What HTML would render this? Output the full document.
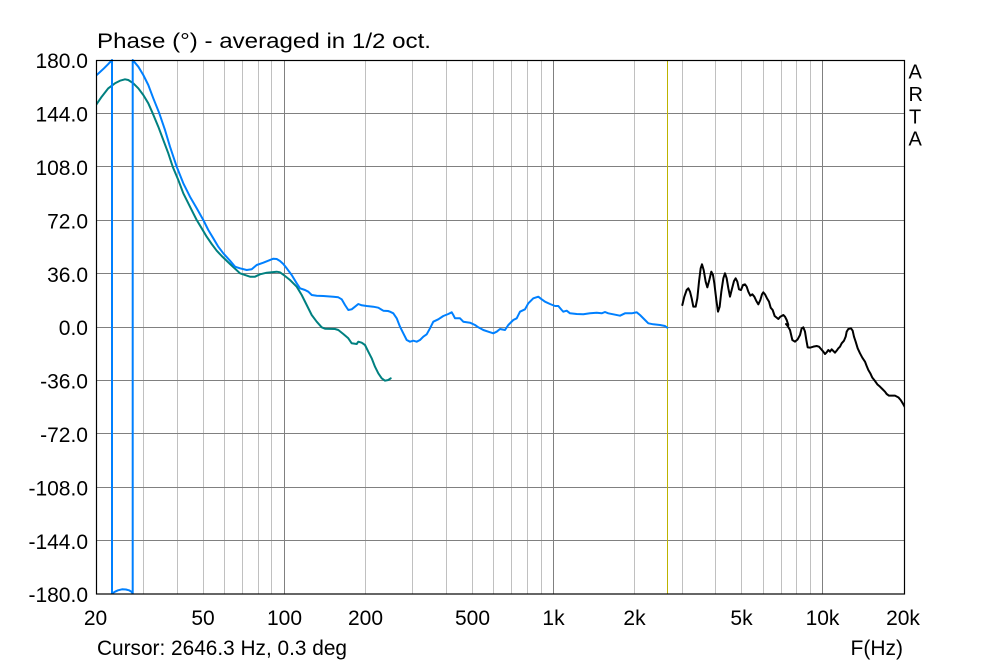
<!DOCTYPE html>
<html>
<head>
<meta charset="utf-8">
<style>
html,body{margin:0;padding:0;background:#fff;}
svg{display:block;}
text{font-family:"Liberation Sans",Arial,sans-serif;fill:#000;}
</style>
</head>
<body>
<svg width="1000" height="666" viewBox="0 0 1000 666" xmlns="http://www.w3.org/2000/svg">
<rect x="0" y="0" width="1000" height="666" fill="#fff"/>
<defs>
<clipPath id="pc"><rect x="96" y="59" width="809" height="536"/></clipPath>
</defs>

<!-- minor vertical grid -->
<g stroke="#c0c0c0" stroke-width="1">
<line x1="143.5" y1="60" x2="143.5" y2="594"/>
<line x1="177.5" y1="60" x2="177.5" y2="594"/>
<line x1="203.5" y1="60" x2="203.5" y2="594"/>
<line x1="224.5" y1="60" x2="224.5" y2="594"/>
<line x1="242.5" y1="60" x2="242.5" y2="594"/>
<line x1="258.5" y1="60" x2="258.5" y2="594"/>
<line x1="271.5" y1="60" x2="271.5" y2="594"/>
<line x1="365.5" y1="60" x2="365.5" y2="594"/>
<line x1="412.5" y1="60" x2="412.5" y2="594"/>
<line x1="446.5" y1="60" x2="446.5" y2="594"/>
<line x1="472.5" y1="60" x2="472.5" y2="594"/>
<line x1="493.5" y1="60" x2="493.5" y2="594"/>
<line x1="511.5" y1="60" x2="511.5" y2="594"/>
<line x1="527.5" y1="60" x2="527.5" y2="594"/>
<line x1="541.5" y1="60" x2="541.5" y2="594"/>
<line x1="634.5" y1="60" x2="634.5" y2="594"/>
<line x1="682.5" y1="60" x2="682.5" y2="594"/>
<line x1="715.5" y1="60" x2="715.5" y2="594"/>
<line x1="741.5" y1="60" x2="741.5" y2="594"/>
<line x1="763.5" y1="60" x2="763.5" y2="594"/>
<line x1="781.5" y1="60" x2="781.5" y2="594"/>
<line x1="796.5" y1="60" x2="796.5" y2="594"/>
<line x1="810.5" y1="60" x2="810.5" y2="594"/>
</g>
<!-- major vertical + horizontal grid -->
<g stroke="#808080" stroke-width="1">
<line x1="284.5" y1="60" x2="284.5" y2="594"/>
<line x1="553.5" y1="60" x2="553.5" y2="594"/>
<line x1="822.5" y1="60" x2="822.5" y2="594"/>
<line x1="96" y1="113.5" x2="904" y2="113.5"/>
<line x1="96" y1="166.5" x2="904" y2="166.5"/>
<line x1="96" y1="220.5" x2="904" y2="220.5"/>
<line x1="96" y1="273.5" x2="904" y2="273.5"/>
<line x1="96" y1="327.5" x2="904" y2="327.5"/>
<line x1="96" y1="380.5" x2="904" y2="380.5"/>
<line x1="96" y1="433.5" x2="904" y2="433.5"/>
<line x1="96" y1="487.5" x2="904" y2="487.5"/>
<line x1="96" y1="540.5" x2="904" y2="540.5"/>
</g>
<!-- cursor -->
<line x1="667.5" y1="60" x2="667.5" y2="594" stroke="#bdb400" stroke-width="1"/>

<g clip-path="url(#pc)" fill="none" stroke-linejoin="round" stroke-linecap="round">
<!-- green -->
<polyline stroke="#008080" stroke-width="2" points="96,105 101.7,96.7 108.3,88.3 115,83.3 120,80.7 125,79.3 128.3,80 133.3,83.3 138.3,88.3 143.3,95 148.3,103.3 152.7,113.3 158.3,126.7 163.3,140 168.3,153.3 172.7,166.7 178.3,180 183.3,193.3 188.3,203.3 193.3,213.3 196.7,220 201.7,228.3 206.7,236.7 211.7,244 216.7,250.7 221.7,256 230,264 240,273.3 250,276.7 255,276.7 260,274.3 266.7,272.7 276.7,271.7 280,272.3 285,276 290,280 296.7,286.7 301.7,295 306.7,305 311.7,315 316.7,321.7 321.7,327.3 325,328.7 335,329 338.3,330 343.3,334 348.3,338.3 351.7,343.3 356.7,344 358.3,341.7 361.7,342.7 365,345 368.3,351.7 371.7,358.3 375,366.7 378.3,373.3 381.7,378.3 385,380.7 388.3,380 390.7,378.3"/>
<!-- blue -->
<polyline stroke="#0080ff" stroke-width="2" points="96,75.7 100,72 104,68.3 108,64.3 112,60 112,593.5 115,591.7 118,590.3 122,589.3 126,589.5 129,590.3 131.5,591.7 132.7,593.5 132.7,60 138.3,66.7 143.3,75 148.3,85 153.3,98.3 159.3,113.3 165,130 170,146.7 176.7,166.7 183.3,183.3 190,196.7 196.7,208.3 203.3,220 208.3,230 213.3,238.3 218.3,246.7 223.3,253.3 230,260.7 235,266.7 240,268.3 246.7,270 251.7,269.3 256.7,265 263.3,262.7 268.3,260.7 273.3,258.7 276.7,259 280,261 283.3,264 286.7,268.3 291.7,275 296.7,283.3 300,288.3 305,290 308.3,291.7 311.7,295 316.7,295.7 323.3,296 333.3,296.7 338.3,297.3 341.7,299.3 345,305 348.3,310 351.7,309.3 355,306.7 358.3,304 361.7,305.3 366.7,306 373.3,306.7 378.3,307.7 383.3,310.7 388,311 390,311.7 393.3,313.3 396.7,318.3 400,326.7 403.3,333.3 406.7,340 410,341.7 413.3,340.7 416.7,341.7 420,340 423.3,336.7 426.7,334.3 430,328.3 433.3,321.7 438.3,319.3 443.3,316 448.3,314 451.7,312.3 453.3,315 455,318.3 460,318.3 463.3,321.7 470,322.7 475,325 478.3,327.3 483.3,330 488.3,331.7 493.3,333.3 496.7,331.7 500,329 505,330 508.3,325 513.3,320 516.7,318.3 520,311.7 525,309.3 528.3,303.3 533.3,298.3 538.3,296.7 541.7,299.3 545,301.7 550,304 555,306 558.3,306 561.7,310 563.3,311.7 566.7,310.7 570,313.3 576.7,314 583.3,314.3 590,313.3 596.7,312.7 601.7,313.3 605,312 608.3,313.3 613.3,314.3 620,315.7 625,313.3 631.7,313.3 636.7,312.3 640,315 645,320 648.3,323.3 653.3,324.3 660,325 665,326 667.3,327.7"/>
<!-- black part 1 -->
<g transform="translate(675 255) scale(0.333333)">
<polyline vector-effect="non-scaling-stroke" stroke="#000" stroke-width="2" points="22,150 28,125 35,105 40,100 45,110 50,130 55,155 62,155 67,130 72,80 77,40 81,28 86,45 92,80 97,97 103,75 109,50 114,60 118,85 124,135 129,170 134,155 139,110 145,70 150,55 155,70 160,100 165,125 170,105 177,78 182,70 187,80 192,103 198,105 204,90 210,88 215,95 220,110 226,122 232,118 238,125 244,138 250,148 256,135 261,118 265,112 270,118 276,130 282,140 287,158 293,165 299,183 305,188 310,192 316,185 320,183 325,180 330,185 335,195 340,210"/>
</g>
<!-- black part 2 -->
<g transform="translate(785 310) scale(0.333333)">
<polyline vector-effect="non-scaling-stroke" stroke="#000" stroke-width="2" points="3,42 8,48 15,60 22,90 30,95 38,88 45,75 50,55 55,52 60,65 64,90 68,112 75,113 85,110 95,108 102,110 108,117 115,125 120,132 125,127 130,120 135,125 140,118 145,123 150,128 155,122 160,115 165,110 170,100 177,92 182,80 185,65 190,57 198,55 203,62 207,80 212,95 218,115 225,130 232,143 240,155 245,168 250,180 256,190 262,203 270,213 277,223 285,230 292,237 300,245 305,252 312,257 320,257 330,257 340,262 347,270 355,283 360,292"/>
</g>
</g>

<!-- frame -->
<rect x="96.5" y="60.5" width="808" height="533.5" fill="none" stroke="#000" stroke-width="1.2"/>

<!-- title -->
<text x="97" y="48" font-size="21.5" textLength="334" lengthAdjust="spacingAndGlyphs">Phase (°) - averaged in 1/2 oct.</text>

<!-- y labels -->
<g font-size="21" text-anchor="end">
<text x="88" y="68">180.0</text>
<text x="88" y="121.5">144.0</text>
<text x="88" y="175">108.0</text>
<text x="88" y="228.5">72.0</text>
<text x="88" y="282">36.0</text>
<text x="88" y="335">0.0</text>
<text x="88" y="388.5">-36.0</text>
<text x="88" y="442">-72.0</text>
<text x="88" y="495.5">-108.0</text>
<text x="88" y="549">-144.0</text>
<text x="88" y="602">-180.0</text>
</g>

<!-- x labels -->
<g font-size="21" text-anchor="middle">
<text x="95.5" y="625">20</text>
<text x="203" y="625">50</text>
<text x="284.5" y="625">100</text>
<text x="365.5" y="625">200</text>
<text x="472.5" y="625">500</text>
<text x="553.5" y="625">1k</text>
<text x="634.5" y="625">2k</text>
<text x="741.5" y="625">5k</text>
<text x="822.5" y="625">10k</text>
<text x="903" y="625">20k</text>
</g>
<text x="903" y="655" font-size="21" text-anchor="end">F(Hz)</text>
<text x="97" y="655" font-size="21" textLength="250" lengthAdjust="spacingAndGlyphs">Cursor: 2646.3 Hz, 0.3 deg</text>

<!-- ARTA -->
<g font-size="20">
<text x="908.5" y="78.5">A</text>
<text x="908.5" y="101">R</text>
<text x="909" y="123.5">T</text>
<text x="908.5" y="145.5">A</text>
</g>
</svg>
</body>
</html>
